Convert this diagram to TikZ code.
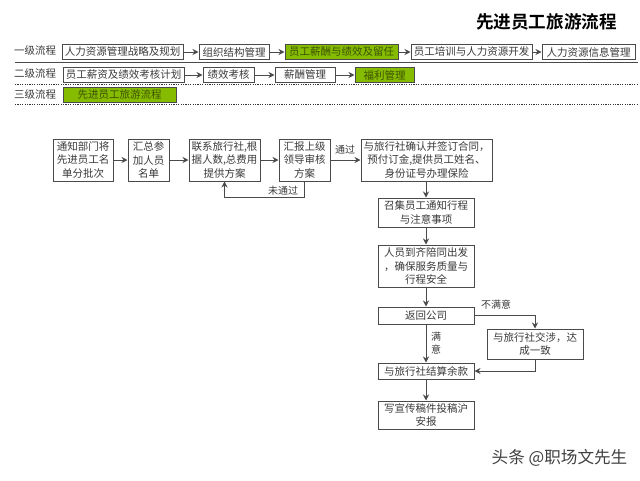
\documentclass[tikz,border=0pt]{standalone}
\usepackage{fontspec}
\setmainfont{Noto Sans CJK SC}[BoldFont={Noto Sans CJK SC Bold}]
\usetikzlibrary{arrows.meta}
\definecolor{leaf}{HTML}{86BC00}
\definecolor{leaftext}{HTML}{3C5200}
\definecolor{edge}{HTML}{4A4A4A}
\definecolor{ink}{HTML}{3A3A3A}
\tikzset{
 base/.style={draw=edge,line width=1pt,inner sep=0pt,align=center,text=ink,font=\fontsize{10.5pt}{13.5pt}\selectfont},
 topbox/.style={base,fill=white,minimum height=15pt},
 greenbox/.style={base,fill=leaf,text=leaftext,minimum height=15pt},
 flow/.style={base,fill=white},
 w/.style={minimum width=#1pt},
 h/.style={minimum height=#1pt},
 lvl/.style={text=ink,inner sep=0pt,font=\fontsize{10.5pt}{13pt}\selectfont},
 lab/.style={text=ink,inner sep=0pt,align=center,font=\fontsize{10pt}{13pt}\selectfont},
 arr/.style={draw=edge,line width=1pt,-{Stealth[length=6pt,width=6pt]}},
 rule/.style={draw=edge,line width=1pt},
 dots/.style={draw=black!80,line width=1pt,dash pattern=on 1.2pt off 1.2pt},
}
\begin{document}
\begin{tikzpicture}[x=1pt,y=-1pt]
\useasboundingbox (0,0) rectangle (640,480);
\node[inner sep=0pt,text=black,font=\fontsize{17.6pt}{20pt}\selectfont\bfseries] (title) at (546.5,22) {先进员工旅游流程};
% level labels
\node[lvl] (l1) at (35,50.5) {一级流程};
\node[lvl] (l2) at (35,74) {二级流程};
\node[lvl] (l3) at (35,94.5) {三级流程};
% rules
\coordinate (r1a) at (15,62.5); \coordinate (r1b) at (638,62.5);
\coordinate (r2a) at (15,84.5); \coordinate (r2b) at (638,84.5);
\coordinate (r3a) at (15,104.5); \coordinate (r3b) at (638,104.5);
\draw[rule] (r1a) -- (r1b);
\draw[dots] (r2a) -- (r2b);
\draw[dots] (r3a) -- (r3b);
% row 1
\node[topbox,w=121] (a1) at (122.5,52) {人力资源管理战略及规划};
\node[topbox,w=70] (a2) at (234,52) {组织结构管理};
\node[greenbox,w=113] (a3) at (341.5,52) {员工薪酬与绩效及留任};
\node[topbox,w=121] (a4) at (471.5,52) {员工培训与人力资源开发};
\node[topbox,w=93] (a5) at (588.5,52) {人力资源信息管理};
\draw[arr] (a1) -- (a2);
\draw[arr] (a2) -- (a3);
\draw[arr] (a3) -- (a4);
\draw[arr] (a4) -- (a5);
% row 2
\node[topbox,w=121] (b1) at (123.5,75) {员工薪资及绩效考核计划};
\node[topbox,w=51] (b2) at (228.5,75) {绩效考核};
\node[topbox,w=60] (b3) at (305,75) {薪酬管理};
\node[greenbox,w=59] (b4) at (384.5,75) {福利管理};
\draw[arr] (b1) -- (b2);
\draw[arr] (b2) -- (b3);
\draw[arr] (b3) -- (b4);
% row 3
\node[greenbox,w=113] (c1) at (119.5,94.5) {先进员工旅游流程};
% flow
\node[flow,w=60,h=42] (n1) at (83,160) {通知部门将\\先进员工名\\单分批次};
\node[flow,w=41,h=42] (n2) at (148.5,160) {汇总参\\加人员\\名单};
\node[flow,w=71,h=42] (n3) at (224.5,160) {联系旅行社,根\\据人数,总费用\\提供方案};
\node[flow,w=51,h=42] (n4) at (304.5,160) {汇报上级\\领导审核\\方案};
\node[flow,w=131,h=42] (n5) at (426.5,160) {与旅行社确认并签订合同，\\预付订金,提供员工姓名、\\身份证号办理保险};
\node[flow,w=96,h=29] (n6) at (426,212.5) {召集员工通知行程\\与注意事项};
\node[flow,w=96,h=42] (n7) at (426,266) {人员到齐陪同出发\\，确保服务质量与\\行程安全};
\node[flow,w=96,h=17] (n8) at (426,315.5) {返回公司};
\node[flow,w=96,h=30] (n9) at (535,344) {与旅行社交涉，达\\成一致};
\node[flow,w=96,h=16] (n10) at (426,371) {与旅行社结算余款};
\node[flow,w=96,h=28] (n11) at (426,415) {写宣传稿件投稿沪\\安报};
\draw[arr] (n1) -- (n2);
\draw[arr] (n2) -- (n3);
\draw[arr] (n3) -- (n4);
\draw[arr] (n4) -- (n5);
\draw[arr] (n5.south -| n6) -- (n6);
\draw[arr] (n6) -- (n7);
\draw[arr] (n7) -- (n8);
\draw[arr] (n8) -- (n10);
\draw[arr] (n10) -- (n11);
\draw[arr] (n4.south) -- ++(0,16) -| (n3.south);
\draw[arr] (n8.east) -| (n9.north);
\draw[arr] (n9.south) |- (n10.east);
% labels
\node[lab] (t1) at (283,191) {未通过};
\node[lab] (t2) at (345,150) {通过};
\node[lab] (t3) at (496,305) {不满意};
\node[lab] (t4) at (436,343.5) {满\\意};
\node[inner sep=0pt,text=black!75,font=\fontsize{16.6pt}{18pt}\selectfont] (wm) at (559.5,458) {头条 @职场文先生};
\end{tikzpicture}
\end{document}
